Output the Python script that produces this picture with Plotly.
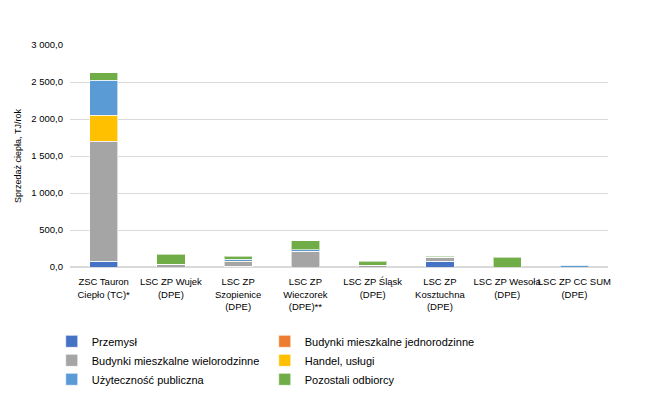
import plotly.graph_objects as go

categories = [
    "ZSC Tauron<br>Ciepło (TC)*",
    "LSC ZP Wujek<br>(DPE)",
    "LSC ZP<br>Szopienice<br>(DPE)",
    "LSC ZP<br>Wieczorek<br>(DPE)**",
    "LSC ZP Śląsk<br>(DPE)",
    "LSC ZP<br>Kosztuchna<br>(DPE)",
    "LSC ZP Wesoła<br>(DPE)",
    "LSC ZP CC SUM<br>(DPE)",
]

przemysl = [75, 0, 10, 0, 0, 80, 0, 0]
jednorodzinne = [0, 0, 0, 0, 0, 0, 0, 0]
wielorodzinne = [1625, 40, 60, 210, 25, 55, 0, 0]
handel = [350, 0, 8, 5, 0, 0, 0, 0]
uzytecznosc = [475, 0, 25, 20, 0, 0, 0, 25]
pozostali = [100, 130, 40, 120, 50, 10, 130, 0]

series = [
    ("Przemysł", przemysl, "#4472C4"),
    ("Budynki mieszkalne jednorodzinne", jednorodzinne, "#ED7D31"),
    ("Budynki mieszkalne wielorodzinne", wielorodzinne, "#A5A5A5"),
    ("Handel, usługi", handel, "#FFC000"),
    ("Użyteczność publiczna", uzytecznosc, "#5B9BD5"),
    ("Pozostali odbiorcy", pozostali, "#70AD47"),
]

fig = go.Figure()
for name, vals, color in series:
    fig.add_trace(go.Bar(
        x=categories, y=vals, name=name,
        marker=dict(color=color, line=dict(color="rgba(255,255,255,0.6)", width=1)),
        width=0.42,
    ))

font = "Liberation Sans"
fig.update_layout(
    barmode="stack",
    width=672, height=401,
    margin=dict(l=70, r=64, t=45, b=134),
    paper_bgcolor="white", plot_bgcolor="white",
    separators=", ",
    font=dict(family=font, size=9, color="#000000"),
    yaxis=dict(
        range=[0, 3000], dtick=500, tickformat=",.1f",
        showgrid=True, gridcolor="#D9D9D9", gridwidth=1,
        zeroline=True, zerolinecolor="#D9D9D9",
        ticks="", ticklen=0, tickfont=dict(size=9.5, color="#000"),
        ticklabelstandoff=6,
        title=dict(text="Sprzedaż ciepła, TJ/rok", font=dict(size=9), standoff=8),
        showline=False, automargin=False,
    ),
    xaxis=dict(
        showgrid=False, showline=True, linecolor="#D9D9D9",
        tickfont=dict(size=9.5, color="#000"), tickangle=0,
        ticklabelstandoff=6, automargin=False,
    ),
    legend=dict(
        orientation="h",
        xref="container", x=0.077, xanchor="left",
        yref="container", y=0.185, yanchor="top",
        entrywidth=168, entrywidthmode="pixels",
        font=dict(size=11, color="#000"), traceorder="normal",
        itemwidth=30, tracegroupgap=0,
    ),
    bargap=0.58,
)

fig.write_html("out.html")
